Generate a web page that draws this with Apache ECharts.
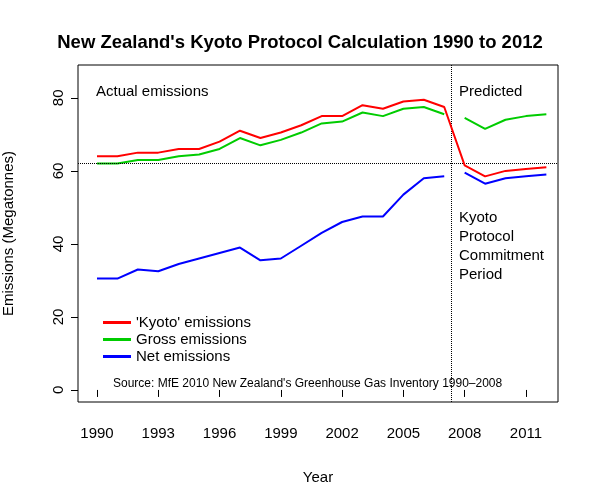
<!DOCTYPE html>
<html><head><meta charset="utf-8">
<script src="https://cdn.jsdelivr.net/npm/echarts@6/dist/echarts.min.js"></script>
<style>body{margin:0}#c{width:600px;height:500px}</style></head>
<body><div id="c"></div>
<script>
const years = [1990,1991,1992,1993,1994,1995,1996,1997,1998,1999,2000,2001,2002,2003,2004,2005,2006,2007,2008,2009,2010,2011,2012];
const kyoto = [64,64,65,65,66,66,68,71,69,70.5,72.5,75,75,78,77,79,79.5,77.5,61.5,58.5,60,60.5,61];
const grossActual = [62,62,63,63,64,64.5,66,69,67,68.5,70.5,73,73.5,76,75,77,77.5,75.5];
const grossPred = [74.5,71.5,74,75,75.5];
const netActual = [30.5,30.5,33,32.5,34.5,36,37.5,39,35.5,36,39.5,43,46,47.5,47.5,53.5,58,58.5];
const netPred = [59.5,56.5,58,58.5,59];
const xTicks = [1990,1993,1996,1999,2002,2005,2008,2011];
const yTicks = [0,20,40,60,80];
const predStart = 2007.33, kyotoRef = 62.2;

const pair = (ys, vals) => vals.map((v,i)=>[ys[i], v]);
const actYears = years.slice(0,18), predYears = years.slice(18);
const F = 'Liberation Sans, Arial, sans-serif';
const ch = echarts.init(document.getElementById('c'));
const ls = c => ({type:'line', symbol:'none', lineStyle:{color:c, width:2}, itemStyle:{color:c}});
ch.setOption({
  animation:false,
  textStyle:{fontFamily:F},
  title:{text:"New Zealand's Kyoto Protocol Calculation 1990 to 2012", left:'center', top:28,
    textStyle:{fontSize:18.5, fontWeight:'bold', color:'#000', fontFamily:F}},
  grid:{left:78, right:42, top:65, bottom:98, show:true, borderColor:'#000', borderWidth:1, outerBoundsMode:'none', containLabel:false},
  xAxis:{type:'value', min:1989.07, max:2012.57, name:'Year', nameLocation:'middle', nameGap:68,
    nameTextStyle:{fontSize:15, color:'#000'}, splitLine:{show:false}, axisLine:{show:false},
    axisTick:{show:true, length:7, inside:false, customValues:xTicks, lineStyle:{color:'#000'}},
    axisLabel:{customValues:xTicks, fontSize:15, color:'#000', margin:24, formatter:v=>String(v)}},
  yAxis:{type:'value', min:-3.3, max:89, name:'Emissions (Megatonnes)', nameLocation:'middle', nameGap:62,
    nameTextStyle:{fontSize:15, color:'#000'}, splitLine:{show:false}, axisLine:{show:false},
    axisTick:{show:true, length:7, customValues:yTicks, lineStyle:{color:'#000'}},
    axisLabel:{customValues:yTicks, fontSize:15, color:'#000', rotate:90, margin:12, formatter:v=>String(v)}},
  legend:{orient:'vertical', left:98, top:310, itemGap:2, itemWidth:28, itemHeight:3, icon:'rect',
    textStyle:{fontSize:15, color:'#000'}, data:["'Kyoto' emissions","Gross emissions","Net emissions"]},
  series:[
    Object.assign(ls('#ff0000'), {name:"'Kyoto' emissions", data:pair(years,kyoto), z:5,
      markLine:{silent:true, symbol:'none', label:{show:false}, lineStyle:{type:'dotted', color:'#000', width:1},
        data:[{xAxis:predStart},{yAxis:kyotoRef}]}}),
    Object.assign(ls('#00cc00'), {name:'Gross emissions', data:pair(actYears,grossActual)}),
    Object.assign(ls('#00cc00'), {name:'Gross emissions', data:pair(predYears,grossPred)}),
    Object.assign(ls('#0000ff'), {name:'Net emissions', data:pair(actYears,netActual)}),
    Object.assign(ls('#0000ff'), {name:'Net emissions', data:pair(predYears,netPred)})
  ],
  graphic:[
    {type:'text', left:96, top:84, style:{text:'Actual emissions', font:'15px '+F, fill:'#000'}},
    {type:'text', left:459, top:84, style:{text:'Predicted', font:'15px '+F, fill:'#000'}},
    {type:'text', left:459, top:208, style:{text:'Kyoto\nProtocol\nCommitment\nPeriod', font:'15px '+F, lineHeight:19, fill:'#000'}},
    {type:'text', left:113, top:378, style:{text:"Source: MfE 2010 New Zealand's Greenhouse Gas Inventory 1990\u20132008", font:'12px '+F, fill:'#000'}}
  ]
});
</script></body></html>
